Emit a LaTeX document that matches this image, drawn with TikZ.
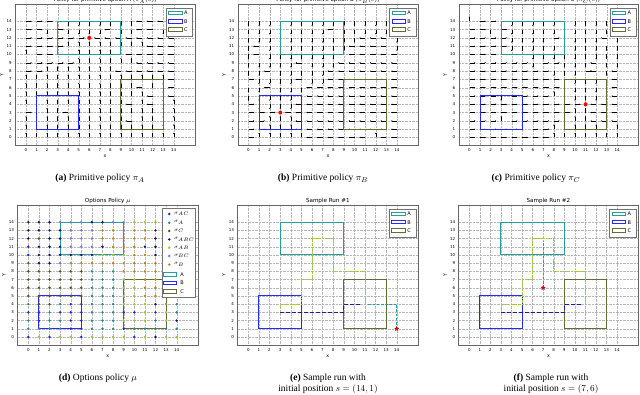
\documentclass[tikz,border=0pt]{standalone}
\usepackage{fontspec}
\setmainfont{Liberation Serif}
\newfontfamily\pf{DejaVu Sans}
\usetikzlibrary{arrows.meta,shapes.geometric}
\definecolor{cA}{RGB}{40,155,155}
\definecolor{cB}{RGB}{40,40,250}
\definecolor{cC}{RGB}{95,110,55}
\definecolor{db}{RGB}{35,35,230}
\definecolor{dt}{RGB}{30,140,140}
\definecolor{do}{RGB}{75,85,35}
\definecolor{dn}{RGB}{15,15,100}
\definecolor{dg}{RGB}{150,200,50}
\definecolor{dl}{RGB}{115,115,230}
\definecolor{dy}{RGB}{185,130,30}
\definecolor{pteal}{RGB}{40,160,160}
\definecolor{pgreen}{RGB}{154,205,50}
\definecolor{pnavy}{RGB}{30,30,140}
\tikzset{
  qv/.style={line width=0.4pt,-{Stealth[length=1.3pt,width=1.3pt]}},
  gridl/.style={black!28,line width=0.25pt,dash pattern=on 0.4pt off 1pt},
  frm/.style={black!60,line width=0.6pt},
  bA/.style={draw=cA,line width=1pt},
  bB/.style={draw=cB,line width=1pt},
  bC/.style={draw=cC,line width=1pt},
  lgbox/.style={draw=black!55,fill=white,line width=0.5pt},
  tickl/.style={font=\pf\fontsize{4}{4}\selectfont,inner sep=0.3pt},
  axl/.style={font=\pf\fontsize{4.8}{5}\selectfont,inner sep=0pt},
  ttl/.style={font=\pf\fontsize{5.6}{6}\selectfont,inner sep=0pt},
  lgt/.style={font=\pf\fontsize{5}{5}\selectfont,inner sep=0.3pt},
  captxt/.style={font=\fontsize{9.5}{11}\selectfont,inner sep=0pt},
  dot/.style={circle,inner sep=0pt,minimum size=2.7pt},
  reddot/.style={circle,fill=red,inner sep=0pt,minimum size=4pt},
  redstar/.style={star,star points=5,star point ratio=2.2,fill=red,draw=red!70!black,line width=0.2pt,inner sep=0pt,minimum size=4.5pt},
  pathT/.style={draw=pteal,line width=0.8pt,dash pattern=on 2.6pt off 1.6pt},
  pathG/.style={draw=pgreen,line width=0.75pt,dash pattern=on 2.6pt off 1.2pt on 0.6pt off 1.2pt},
  pathN/.style={draw=pnavy,line width=0.95pt,dash pattern=on 4pt off 2pt},
}
\newcommand\qvR[2]{\draw[qv] (#1,#2) -- ++(0.55,0);}
\newcommand\qvL[2]{\draw[qv] (#1,#2) -- ++(-0.55,0);}
\newcommand\qvU[2]{\draw[qv] (#1,#2) -- ++(0,0.58);}
\newcommand\qvD[2]{\draw[qv] (#1,#2) -- ++(0,-0.58);}
\newcommand\qvN[2]{}
\newcommand\quiverrows[1]{%
  \foreach \row [count=\jj] in {#1}{%
    \pgfmathtruncatemacro\yy{15-\jj}%
    \foreach \cc [count=\ii from 0] in \row {\csname qv\cc\endcsname{\ii}{\yy}}%
  }}
\newcommand\dotrows[1]{%
  \foreach \row [count=\jj] in {#1}{%
    \pgfmathtruncatemacro\yy{15-\jj}%
    \foreach \cc [count=\ii from 0] in \row {\node[dot,fill=d\cc] at (\ii,\yy) {};}%
  }}
\newcommand\axesbase[2]{%
  \foreach \k in {0,...,14}{%
    \draw[gridl] (\k,-1) -- (\k,16);
    \draw[gridl] (-1,\k) -- (16,\k);
    \node[tickl,anchor=north] at (\k,-1.3) {\k};
    \node[tickl,anchor=east] at (-1.3,\k) {\k};
  }
  \node[ttl,anchor=base] (#2) at (7.5,16.35) {#1};
  \node[axl] at (7.5,-2.3) {x};
  \node[axl,rotate=90] at (-2.3,7.5) {Y};
}
\newcommand\regions{%
  \draw[bA] (3,10) rectangle (9,14);
  \draw[bB] (1,1) rectangle (5,5);
  \draw[bC] (9,1) rectangle (13,7);
}
\newcommand\legabc{%
  \draw[lgbox] (13.3,12.2) rectangle (15.8,15.55);
  \draw[bA] (13.55,14.78) rectangle (14.8,15.22);
  \draw[bB] (13.55,13.78) rectangle (14.8,14.22);
  \draw[bC] (13.55,12.78) rectangle (14.8,13.22);
  \node[lgt,anchor=west] at (14.95,15) {A};
  \node[lgt,anchor=west] at (14.95,14) {B};
  \node[lgt,anchor=west] at (14.95,13) {C};
}
\newcommand\frameax{\draw[frm] (-1,-1) rectangle (16,16);}
\newcommand\runpaths{%
  \draw[pathG] (11,4) -- (11,8) -- (8,8) -- (8,12) -- (6,12) -- (6,7) -- (5,7) -- (5,4) -- (3,4) -- (3,3.3);
  \draw[pathN] (3,3) -- (9,3) -- (9,4) -- (10.7,4);
}
\begin{document}
\begin{tikzpicture}[x=1pt,y=1pt]
\useasboundingbox (0,0) rectangle (640,395);
\fill[white] (0,0) rectangle (640,395);
% (a)
\begin{scope}[shift={(26,257.5)},xscale=10.55,yscale=8.3]
\axesbase{Policy for primitive option A ($\pi_A(s)$)}{ta}
\quiverrows{
{R,R,R,D,D,D,D,D,D,D,D,L,L,L,L},
{R,R,D,R,D,D,D,D,L,D,D,L,L,D,L},
{R,R,R,R,R,R,N,L,L,L,L,L,L,L,L},
{R,R,R,R,U,U,U,U,U,U,U,U,L,L,L},
{U,R,R,R,R,U,U,U,U,L,L,L,L,L,L},
{R,R,R,R,R,U,U,U,U,U,U,L,L,L,L},
{R,R,U,U,U,U,U,U,U,L,L,L,L,L,L},
{U,U,U,U,U,U,U,U,U,U,U,U,U,U,L},
{U,U,U,U,U,U,U,U,U,U,U,L,U,U,L},
{U,U,U,U,U,U,U,U,U,U,U,U,L,U,L},
{U,U,U,U,U,U,U,U,U,U,L,U,L,U,U},
{R,U,U,U,L,U,U,U,U,U,U,U,U,U,U},
{U,U,U,U,U,U,U,U,U,U,L,U,U,U,U},
{U,U,U,U,U,U,U,U,U,U,U,U,U,U,U},
{U,U,U,U,U,U,U,U,U,U,U,U,U,U,U}}
\regions
\node[reddot] (ga) at (6,12) {};
\legabc
\frameax
\end{scope}
% (b)
\begin{scope}[shift={(248.5,257.5)},xscale=10.6,yscale=8.3]
\axesbase{Policy for primitive option B ($\pi_B(s)$)}{tb}
\quiverrows{
{D,D,D,D,D,D,D,D,D,D,D,D,D,D,D},
{D,D,D,D,D,D,D,D,L,D,D,D,D,D,D},
{D,D,D,D,D,D,D,D,D,D,D,L,L,L,D},
{D,L,D,D,D,D,D,D,D,D,L,L,L,L,D},
{D,L,D,D,D,D,D,D,D,L,L,L,L,L,L},
{D,D,D,D,D,L,D,D,D,L,L,L,L,L,L},
{D,D,L,D,D,D,D,D,L,L,L,L,L,L,L},
{R,D,D,D,D,L,D,D,L,L,L,L,L,L,L},
{D,D,L,D,D,D,L,L,L,L,L,L,L,L,L},
{D,D,D,D,D,D,L,L,L,L,L,L,L,L,L},
{R,D,D,D,D,L,L,L,L,L,L,L,L,L,L},
{R,R,R,N,L,L,L,L,L,L,L,L,L,L,L},
{R,R,U,U,U,L,L,L,L,L,L,L,L,L,L},
{R,R,U,U,U,L,L,L,L,L,L,L,L,L,L},
{R,U,U,U,U,U,L,L,L,L,L,L,U,L,L}}
\regions
\node[reddot] (gb) at (3,3) {};
\legabc
\frameax
\end{scope}
% (c)
\begin{scope}[shift={(469.5,257.5)},xscale=10.55,yscale=8.3]
\axesbase{Policy for primitive option C ($\pi_C(s)$)}{tc}
\quiverrows{
{U,R,R,D,D,D,D,D,D,D,D,D,D,D,D},
{R,R,D,R,D,D,D,D,D,D,D,D,D,D,D},
{R,R,R,R,D,D,D,D,R,D,D,D,D,L,D},
{R,R,R,R,D,D,D,D,D,D,D,D,D,D,D},
{R,R,R,R,R,R,D,D,D,D,D,D,D,D,D},
{R,R,R,R,R,R,D,R,R,D,D,D,L,D,D},
{R,R,R,R,R,R,R,R,D,D,D,R,L,D,L},
{R,R,R,R,R,R,R,R,R,D,D,D,D,D,L},
{R,R,R,R,R,R,R,R,R,D,D,D,D,D,L},
{R,R,R,D,R,R,R,R,U,D,D,D,D,D,L},
{R,R,R,R,R,R,R,R,R,R,R,N,L,L,L},
{R,R,R,R,R,R,R,R,R,R,U,U,L,L,L},
{R,R,R,U,R,R,R,R,R,U,U,U,L,L,L},
{R,R,R,R,R,U,R,R,U,U,U,U,U,U,U},
{R,R,R,R,R,R,R,R,U,U,U,U,U,U,U}}
\regions
\node[reddot] (gc) at (11,4) {};
\legabc
\frameax
\end{scope}
% (d)
\begin{scope}[shift={(28.3,58)},xscale=10.6,yscale=8.2]
\axesbase{Options Policy $\mu$}{td}
\regions
\dotrows{
{n,n,n,l,l,l,n,n,l,l,g,g,g,n,n},
{n,n,n,n,l,l,l,y,y,l,y,y,n,n,n},
{n,o,n,n,l,l,l,y,y,y,y,y,n,n,n},
{b,n,n,n,l,l,l,n,y,y,y,n,n,n,n},
{b,n,n,n,n,n,n,g,g,g,y,y,n,n,n},
{o,n,n,l,y,y,y,y,y,y,y,y,y,y,y},
{o,o,o,o,o,o,t,t,t,y,y,y,y,y,y},
{o,o,o,o,o,o,t,t,t,g,g,y,y,y,y},
{o,o,o,o,o,o,t,t,t,g,g,y,y,y,y},
{o,o,o,o,o,o,t,t,t,g,g,y,y,y,y},
{t,o,o,t,b,b,t,t,t,g,g,g,n,y,t},
{b,b,t,b,b,b,t,t,t,b,b,g,b,g,t},
{t,b,t,t,b,b,t,t,t,g,g,g,t,g,n},
{t,t,t,t,b,b,t,t,t,b,t,t,t,t,t},
{b,g,b,g,g,b,g,g,g,g,b,g,n,g,g}}
\draw[lgbox] (12.6,4.8) rectangle (15.75,15.75);
\foreach \cl/\lab/\yy in {b/{$\sigma_{AC}$}/15.0, t/{$\sigma_{A}$}/13.94, o/{$\sigma_{C}$}/12.93, n/{$\sigma_{ABC}$}/11.9, g/{$\sigma_{AB}$}/10.88, l/{$\sigma_{BC}$}/9.88, y/{$\sigma_{B}$}/8.83}{
  \node[dot,fill=d\cl] at (13.3,\yy) {};
  \node[lgt,anchor=west] at (13.7,\yy) {\lab};
}
\draw[bA] (12.8,7.42) rectangle (13.95,7.88);
\draw[bB] (12.8,6.36) rectangle (13.95,6.82);
\draw[bC] (12.8,5.29) rectangle (13.95,5.75);
\node[lgt,anchor=west] at (14.3,7.65) {A};
\node[lgt,anchor=west] at (14.3,6.59) {B};
\node[lgt,anchor=west] at (14.3,5.52) {C};
\frameax
\end{scope}
% (e)
\begin{scope}[shift={(248.3,58)},xscale=10.6,yscale=8.2]
\axesbase{Sample Run \#1}{te}
\regions
\runpaths
\draw[pathT] (14,1) -- (14,4) -- (11.3,4);
\node[redstar] (se) at (14,1) {};
\legabc
\frameax
\end{scope}
% (f)
\begin{scope}[shift={(469.3,58)},xscale=10.55,yscale=8.2]
\axesbase{Sample Run \#2}{tf}
\regions
\runpaths
\draw[pathT] (7,6) -- (7,11.7);
\node[redstar] (sf) at (7,6) {};
\legabc
\frameax
\end{scope}
% captions
\node[captxt,anchor=base] (capa) at (100,214.5) {\textbf{(a)} Primitive policy $\pi_A$};
\node[captxt,anchor=base] (capb) at (323,214.5) {\textbf{(b)} Primitive policy $\pi_B$};
\node[captxt,anchor=base] (capc) at (536,214.5) {\textbf{(c)} Primitive policy $\pi_C$};
\node[captxt,anchor=base] (capd) at (98,14) {\textbf{(d)} Options policy $\mu$};
\node[captxt,anchor=base] (cape1) at (328,14) {\textbf{(e)} Sample run with};
\node[captxt,anchor=base] (cape2) at (328,3) {initial position $s=(14,1)$};
\node[captxt,anchor=base] (capf1) at (551,14) {\textbf{(f)} Sample run with};
\node[captxt,anchor=base] (capf2) at (551,3) {initial position $s=(7,6)$};
\end{tikzpicture}
\end{document}
